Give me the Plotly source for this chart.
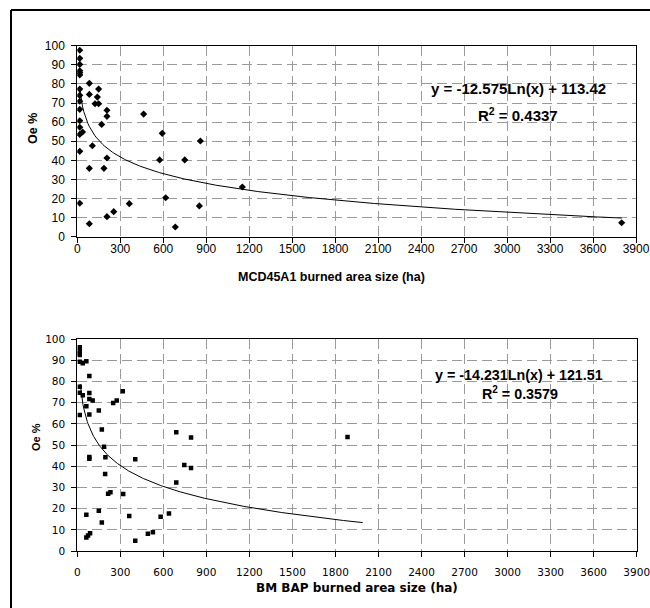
import numpy as np
import plotly.graph_objects as go

W, H = 650, 608

# ---- Data: MCD45A1 (top) ----
mcd_x = [17, 17, 17, 17, 17, 17, 17, 17, 17, 17, 17, 17, 17, 37, 17, 17,
         84, 84, 149, 140, 124, 149, 207, 207, 170, 105, 84, 186, 207, 207,
         254, 84, 363, 463, 593, 575, 617, 684, 750, 859, 852, 1152, 3800]
mcd_y = [97.6, 93.4, 90.2, 86.9, 85.9, 84.7, 77.3, 74.0, 70.9, 66.7, 60.7, 57.3, 53.6, 54.8, 44.7, 17.5,
         80.3, 74.5, 77.3, 73.1, 69.6, 69.6, 66.2, 63.0, 58.8, 47.6, 35.8, 35.8, 41.2, 10.5,
         13.1, 6.8, 17.3, 64.2, 54.1, 40.2, 20.4, 5.1, 40.2, 50.1, 16.1, 26.0, 7.3]
mcd_coef = (-12.575, 113.42)
mcd_r2 = "0.4337"
mcd_trend_range = (17, 3800)

# ---- Data: BMBAP (bottom) ----
bm_x = [17, 17, 17, 17, 17, 38, 63, 84, 17, 17, 38, 63, 84, 84, 107, 17, 84, 150,
        250, 275, 317, 171, 187, 196, 84, 84, 194, 215, 231, 320, 404, 63, 150, 171,
        63, 75, 89, 362, 404, 492, 527, 581, 639, 690, 690, 746, 793, 793, 1884]
bm_y = [96.3, 94.6, 93.4, 92.6, 89.4, 88.7, 89.6, 82.7, 77.6, 74.7, 73.6, 68.4, 74.6, 71.8, 71.1, 64.2, 64.5, 66.4,
        69.9, 71.1, 75.5, 57.4, 49.3, 44.3, 44.4, 43.6, 36.4, 27.1, 27.8, 26.9, 43.3, 17.1, 19.0, 13.5,
        6.4, 7.3, 8.4, 16.5, 4.8, 8.1, 8.9, 16.2, 17.7, 56.1, 32.4, 40.6, 53.6, 39.2, 53.9]
bm_coef = (-14.231, 121.51)
bm_r2 = "0.3579"
bm_trend_range = (20, 1990)

x_ticks = list(range(0, 4200, 300))
y_ticks = list(range(0, 110, 10))


def fx(px):
    return px / W


def fy(py):
    return 1 - py / H


fig = go.Figure()

# trend lines from the displayed fitted coefficients
for (a, b), (lo, hi), xa, ya in [(mcd_coef, mcd_trend_range, "x", "y"), (bm_coef, bm_trend_range, "x2", "y2")]:
    tx = np.linspace(lo, hi, 400)
    ty = a * np.log(tx) + b
    fig.add_trace(go.Scatter(x=tx, y=ty, mode="lines", line=dict(color="black", width=1),
                             xaxis=xa, yaxis=ya, hoverinfo="skip", showlegend=False))

fig.add_trace(go.Scatter(x=mcd_x, y=mcd_y, mode="markers",
                         marker=dict(symbol="diamond", size=5.5, color="black"),
                         xaxis="x", yaxis="y", showlegend=False))
fig.add_trace(go.Scatter(x=bm_x, y=bm_y, mode="markers",
                         marker=dict(symbol="square", size=4.5, color="black"),
                         xaxis="x2", yaxis="y2", showlegend=False))

grid = dict(showgrid=True, gridcolor="#9a9a9a", gridwidth=1, griddash="10px,5px",
            zeroline=False, showline=True, linecolor="black", linewidth=1, mirror=True,
            ticks="outside", ticklen=5, tickcolor="black", automargin=False,
            ticklabeloverflow="allow")

top_font = dict(family="Liberation Sans, Arial, sans-serif", size=12, color="black")
bot_font = dict(family="DejaVu Sans, sans-serif", size=10.5, color="black")

fig.update_layout(
    width=W, height=H,
    margin=dict(l=0, r=0, t=0, b=0, pad=0),
    paper_bgcolor="white", plot_bgcolor="white",
    xaxis=dict(domain=[fx(77.3), fx(636)], anchor="y", range=[0, 3900], tickvals=x_ticks,
               tickfont=top_font, ticklabelstandoff=-4, **grid),
    yaxis=dict(domain=[fy(236.7), fy(45.7)], anchor="x", range=[0, 100], tickvals=y_ticks,
               tickfont=top_font, ticklabelstandoff=4, **grid),
    xaxis2=dict(domain=[fx(77.3), fx(636.7)], anchor="y2", range=[0, 3900], tickvals=x_ticks,
                tickfont=bot_font, ticklabelstandoff=6, **grid),
    yaxis2=dict(domain=[fy(551), fy(339.3)], anchor="x2", range=[0, 100], tickvals=y_ticks,
                tickfont=bot_font, ticklabelstandoff=4, **grid),
)

ann = []
# axis titles
ann.append(dict(x=fx(331), y=fy(277), text="<b>MCD45A1 burned area size (ha)</b>",
                font=dict(family="Liberation Sans, Arial, sans-serif", size=12.5, color="black")))
ann.append(dict(x=fx(33), y=fy(129), text="<b>Oe %</b>", textangle=-90,
                font=dict(family="Liberation Sans, Arial, sans-serif", size=12.5, color="black")))
ann.append(dict(x=fx(357), y=fy(588), text="<b>BM BAP burned area size (ha)</b>",
                font=dict(family="DejaVu Sans, sans-serif", size=12, color="black")))
ann.append(dict(x=fx(36), y=fy(437), text="<b>Oe %</b>", textangle=-90,
                font=dict(family="Liberation Sans, Arial, sans-serif", size=11, color="black")))
# equations
ann.append(dict(x=fx(518), y=fy(89), text="<b>y = %.3fLn(x) + %.2f</b>" % mcd_coef,
                font=dict(family="Liberation Sans, Arial, sans-serif", size=15, color="black")))
ann.append(dict(x=fx(518), y=fy(114), text="<b>R<sup>2</sup> = %s</b>" % mcd_r2,
                font=dict(family="Liberation Sans, Arial, sans-serif", size=15, color="black")))
ann.append(dict(x=fx(519), y=fy(375), text="<b>y = %.3fLn(x) + %.2f</b>" % bm_coef,
                font=dict(family="Liberation Sans, Arial, sans-serif", size=14.3, color="black")))
ann.append(dict(x=fx(520), y=fy(393), text="<b>R<sup>2</sup> = %s</b>" % bm_r2,
                font=dict(family="Liberation Sans, Arial, sans-serif", size=14.3, color="black")))
for a in ann:
    a.update(xref="paper", yref="paper", showarrow=False, xanchor="center", yanchor="middle")
fig.update_layout(annotations=ann)

# outer frame (left and top edges; the others lie outside the picture)
fig.add_shape(type="line", xref="paper", yref="paper", x0=fx(11), y0=0, x1=fx(11), y1=fy(10),
              line=dict(color="black", width=2), layer="above")
fig.add_shape(type="line", xref="paper", yref="paper", x0=fx(11), y0=fy(10), x1=1, y1=fy(10),
              line=dict(color="black", width=2), layer="above")

fig.write_html("out.html")
